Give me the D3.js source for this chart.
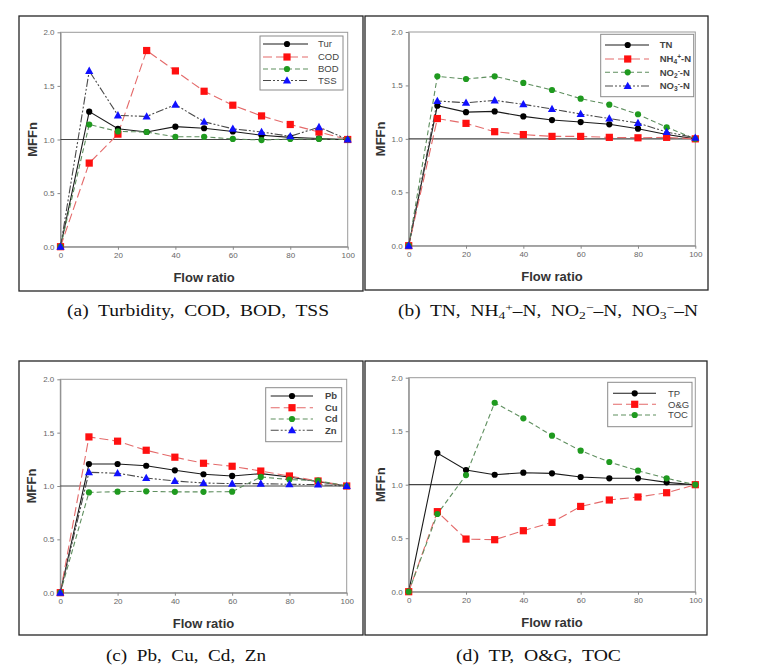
<!DOCTYPE html>
<html><head><meta charset="utf-8">
<script src="https://cdn.jsdelivr.net/npm/d3@7"></script>
<style>body{margin:0;background:#fff}svg{display:block}</style>
</head><body>
<svg id="c" width="765" height="671"></svg>
<script>
// ---------- data ----------
const flow = [0,10,20,30,40,50,60,70,80,90,100];
const xTicks = [0,20,40,60,80,100];
const yTicks = [0,0.5,1.0,1.5,2.0];

const tur = [0,1.26,1.10,1.07,1.12,1.105,1.075,1.04,1.02,1.01,1.0];
const cod = [0,0.78,1.05,1.83,1.64,1.45,1.32,1.22,1.14,1.07,1.0];
const bod = [0,1.14,1.075,1.07,1.025,1.025,1.005,0.995,1.005,1.005,1.0];
const tss = [0,1.64,1.225,1.215,1.325,1.165,1.10,1.07,1.03,1.115,1.0];

const tn  = [0,1.31,1.25,1.257,1.21,1.176,1.157,1.136,1.095,1.04,1.0];
const nh4 = [0,1.19,1.145,1.067,1.04,1.023,1.023,1.014,1.01,1.014,1.0];
const no2 = [0,1.585,1.56,1.585,1.523,1.457,1.376,1.32,1.23,1.108,1.0];
const no3 = [0,1.354,1.338,1.36,1.323,1.28,1.232,1.19,1.148,1.064,1.01];

const pb = [0,1.206,1.206,1.19,1.147,1.11,1.094,1.116,1.085,1.04,1.0];
const cu = [0,1.46,1.42,1.335,1.27,1.213,1.185,1.14,1.094,1.047,1.0];
const cd = [0,0.94,0.947,0.95,0.945,0.945,0.947,1.085,1.06,1.05,1.0];
const zn = [0,1.128,1.12,1.075,1.047,1.028,1.022,1.022,1.016,1.013,1.0];

const tp  = [0,1.296,1.137,1.093,1.112,1.106,1.072,1.06,1.06,1.022,1.0];
const og  = [0,0.748,0.492,0.486,0.57,0.648,0.797,0.857,0.885,0.925,1.0];
const toc = [0,0.726,1.09,1.766,1.62,1.458,1.318,1.212,1.131,1.06,1.0];

// legend labels: segments [text, kind] kind: n=normal, sub, sup
const labelsA = [[["Tur"]],[["COD"]],[["BOD"]],[["TSS"]]];
const labelsB = [[["TN"]],[["NH"],["4","sub"],["+","sup"],["-N"]],[["NO"],["2","sub"],["-","sup"],["-N"]],[["NO"],["3","sub"],["-","sup"],["-N"]]];
const labelsC = [[["Pb"]],[["Cu"]],[["Cd"]],[["Zn"]]];
const labelsD = [[["TP"]],[["O&G"]],[["TOC"]]];

const capA = [["(a)  Turbidity,  COD,  BOD,  TSS"]];
const capB = [["(b)  TN,  NH"],["4","sub"],["+","sup"],["\u2013N,  NO"],["2","sub"],["\u2212","sup"],["\u2013N,  NO"],["3","sub"],["\u2212","sup"],["\u2013N"]];
const capC = [["(c)  Pb,  Cu,  Cd,  Zn"]];
const capD = [["(d)  TP,  O&G,  TOC"]];

// ---------- styles ----------
const styles = {
  k: {line:"#1a1a1a", dash:null, marker:"circle", fill:"#000"},
  r: {line:"#e46a6a", dash:"9,4", marker:"square", fill:"#ff1010"},
  g: {line:"#5f8f5f", dash:"5,3", marker:"circle", fill:"#1f9a1f"},
  b: {line:"#4a4a4a", dash:"8,2,2,2,2,2", marker:"triangle", fill:"#1010ff"}
};

const panels = [
  {box:[19,16,344,275], plot:[60.5,32.3,347.7,246.7], series:[[tur,"k"],[cod,"r"],[bod,"g"],[tss,"b"]], labels:labelsA,
   legend:{box:[260,36,83,54], rows:[44,57,69,80.5], l0:263, l1:308, m:287, tx:318, bold:false},
   cap:capA, capX:[67,329], capY:316},
  {box:[365,16,343,274], plot:[408.7,32,695.3,245.7], series:[[tn,"k"],[nh4,"r"],[no2,"g"],[no3,"b"]], labels:labelsB,
   legend:{box:[600.7,34.3,93,62.4], rows:[45,59,72.3,86], l0:605, l1:649, m:627.7, tx:659.7, bold:true},
   cap:capB, capX:[398,698], capY:316},
  {box:[19,361,344,274], plot:[60.3,379.3,346.7,592.7], series:[[pb,"k"],[cu,"r"],[cd,"g"],[zn,"b"]], labels:labelsC,
   legend:{box:[265.7,387.7,76,54], rows:[396,407.7,419,430.3], l0:270.7, l1:313, m:292, tx:325, bold:true},
   cap:capC, capX:[106,266], capY:661},
  {box:[365,361,342,274], plot:[408.7,377.7,695.3,591.7], series:[[tp,"k"],[og,"r"],[toc,"g"]], labels:labelsD,
   legend:{box:[607.7,382.3,84.3,44.4], rows:[393.3,404.3,415], l0:613, l1:656, m:634.7, tx:668, bold:false},
   cap:capD, capX:[456,621], capY:661}
];

const svg = d3.select("#c");

function marker(g, type, x, y, fill) {
  if (type === "circle") {
    g.append("circle").attr("cx",x).attr("cy",y).attr("r",3.1).attr("fill",fill);
  } else if (type === "square") {
    g.append("rect").attr("x",x-3.6).attr("y",y-3.6).attr("width",7.2).attr("height",7.2).attr("fill",fill);
  } else {
    g.append("path").attr("d",`M${x},${y-4.3}L${x+4.1},${y+3}L${x-4.1},${y+3}Z`).attr("fill",fill);
  }
}

function richText(t, segs, size) {
  segs.forEach(s => {
    const kind = s[1] || "n";
    const ts = t.append("tspan").text(s[0]);
    if (kind === "sub") ts.attr("baseline-shift","-25%").attr("font-size", size*0.7);
    else if (kind === "sup") ts.attr("baseline-shift","45%").attr("font-size", size*0.7);
  });
}

panels.forEach(p => {
  const [bx,by,bw,bh] = p.box;
  svg.append("rect").attr("x",bx).attr("y",by).attr("width",bw).attr("height",bh)
    .attr("fill","none").attr("stroke","#262626").attr("stroke-width",1.3);

  const [x0,y0,x1,y1] = p.plot;
  const x = d3.scaleLinear().domain([0,100]).range([x0,x1]);
  const y = d3.scaleLinear().domain([0,2]).range([y1,y0]);

  const g = svg.append("g");
  g.append("rect").attr("x",x0).attr("y",y0).attr("width",x1-x0).attr("height",y1-y0)
    .attr("fill","none").attr("stroke","#9a9a9a").attr("stroke-width",1);

  const ax = g.append("g").attr("transform",`translate(0,${y1})`)
    .call(d3.axisBottom(x).tickValues(xTicks).tickFormat(d3.format("d")).tickSize(3).tickSizeOuter(0).tickPadding(3));
  const ay = g.append("g").attr("transform",`translate(${x0},0)`)
    .call(d3.axisLeft(y).tickValues(yTicks).tickFormat(d3.format(".1f")).tickSize(3).tickSizeOuter(0).tickPadding(3));
  [ax,ay].forEach(a => {
    a.select(".domain").attr("stroke","#888");
    a.selectAll(".tick line").attr("stroke","#888");
    a.selectAll(".tick text").attr("fill","#666").attr("font-family","Arial, 'Liberation Sans', sans-serif").attr("font-size",8);
  });

  g.append("text").attr("x",(x0+x1)/2).attr("y",y1+35).attr("text-anchor","middle")
    .attr("font-family","Arial, 'Liberation Sans', sans-serif").attr("font-weight","bold").attr("font-size",13).attr("fill","#333")
    .text("Flow ratio");
  g.append("text").attr("transform",`translate(${x0-24},${y(1)}) rotate(-90)`).attr("text-anchor","middle")
    .attr("font-family","Arial, 'Liberation Sans', sans-serif").attr("font-weight","bold").attr("font-size",13).attr("fill","#333")
    .text("MFFn");

  g.append("line").attr("x1",x0).attr("x2",x1).attr("y1",y(1)).attr("y2",y(1))
    .attr("stroke","#444").attr("stroke-width",1.2);

  const line = d3.line().x((d,i)=>x(flow[i])).y(d=>y(d));
  p.series.forEach(([vals,key]) => {
    const st = styles[key];
    g.append("path").datum(vals).attr("d",line).attr("fill","none")
      .attr("stroke",st.line).attr("stroke-width",1.1).attr("stroke-dasharray",st.dash);
  });
  p.series.forEach(([vals,key]) => {
    const st = styles[key];
    vals.forEach((v,i) => marker(g, st.marker, x(flow[i]), y(v), st.fill));
  });

  const L = p.legend;
  g.append("rect").attr("x",L.box[0]).attr("y",L.box[1]).attr("width",L.box[2]).attr("height",L.box[3])
    .attr("fill","#fff").attr("stroke","#8a8a8a").attr("stroke-width",1);
  p.series.forEach(([vals,key],i) => {
    const st = styles[key];
    const ry = L.rows[i];
    g.append("line").attr("x1",L.l0).attr("x2",L.l1).attr("y1",ry).attr("y2",ry)
      .attr("stroke",st.line).attr("stroke-width",1.1).attr("stroke-dasharray",st.dash);
    marker(g, st.marker, L.m, ry, st.fill);
    const t = g.append("text").attr("x",L.tx).attr("y",ry+3.3)
      .attr("font-family","Arial, 'Liberation Sans', sans-serif").attr("font-size",9.5)
      .attr("font-weight",L.bold?"bold":"normal").attr("fill","#444");
    richText(t, p.labels[i], 9.5);
  });

  const c = svg.append("text").attr("x",p.capX[0]).attr("y",p.capY)
    .attr("font-family","'Liberation Serif', 'DejaVu Serif', serif").attr("font-size",16).attr("fill","#111")
    .attr("textLength",p.capX[1]-p.capX[0]).attr("lengthAdjust","spacingAndGlyphs")
    .style("white-space","pre");
  richText(c, p.cap, 16);
});
</script>
</body></html>
